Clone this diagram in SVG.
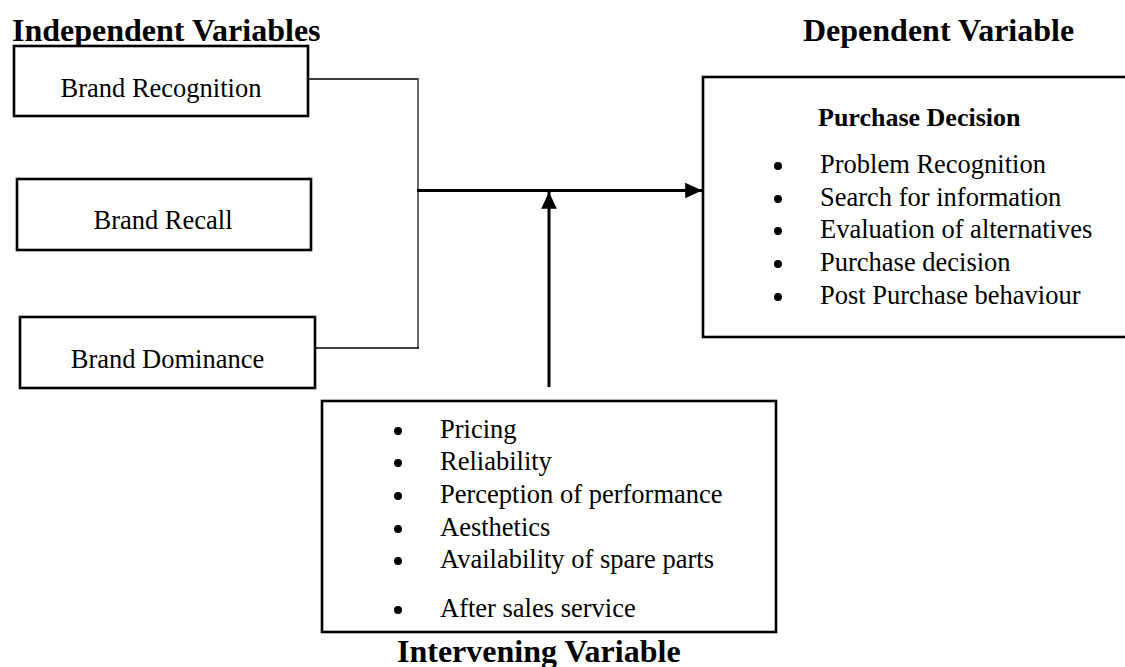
<svg xmlns="http://www.w3.org/2000/svg" width="1125" height="667" viewBox="0 0 1125 667">
<defs>
<style>
.box{fill:#fff;stroke:#000;stroke-width:2.6}
.t{font-family:"Liberation Serif","Times New Roman",serif;font-size:26.5px;fill:#000}
.h{font-family:"Liberation Serif","Times New Roman",serif;font-size:32px;font-weight:bold;fill:#000}
.hb{font-family:"Liberation Serif","Times New Roman",serif;font-size:26px;font-weight:bold;fill:#000}
.thin{stroke:#000;stroke-width:1.5;fill:none}
.vert{stroke:#444;stroke-width:1.6;fill:none}
.main{stroke:#000;stroke-width:3;fill:none}
.dot{fill:#000}
</style>
<marker id="arr" markerWidth="6" markerHeight="6" refX="5.6" refY="3" orient="auto" markerUnits="strokeWidth">
<path d="M0,0.4 L5.6,3 L0,5.6 Z" fill="#000"/>
</marker>
</defs>
<rect width="1125" height="667" fill="#fff"/>
<text class="h" x="12" y="41">Independent Variables</text>
<text class="h" x="803" y="41">Dependent Variable</text>
<text class="h" x="397" y="662">Intervening Variable</text>

<g id="connectors">
<line class="thin" x1="308" y1="79" x2="418" y2="79"/>
<line class="vert" x1="418" y1="78" x2="418" y2="348"/>
<line class="thin" x1="315" y1="348" x2="419" y2="348"/>
<line class="main" x1="417" y1="190.5" x2="702" y2="190.5" marker-end="url(#arr)"/>
<line class="main" x1="549" y1="387" x2="549" y2="192" marker-end="url(#arr)"/>
</g>

<g id="brand-recognition">
<rect class="box" x="14" y="46" width="294" height="70"/>
<text class="t" x="161" y="97" text-anchor="middle">Brand Recognition</text>
</g>
<g id="brand-recall">
<rect class="box" x="17" y="179" width="294" height="71"/>
<text class="t" x="163" y="229" text-anchor="middle">Brand Recall</text>
</g>
<g id="brand-dominance">
<rect class="box" x="20" y="317" width="295" height="71"/>
<text class="t" x="167.5" y="368" text-anchor="middle">Brand Dominance</text>
</g>

<g id="purchase-decision">
<rect class="box" x="703" y="77" width="425" height="260"/>
<text class="hb" x="818" y="126">Purchase Decision</text>
<circle class="dot" cx="778" cy="166" r="4"/>
<text class="t" x="820" y="173">Problem Recognition</text>
<circle class="dot" cx="778" cy="199" r="4"/>
<text class="t" x="820" y="206">Search for information</text>
<circle class="dot" cx="778" cy="231" r="4"/>
<text class="t" x="820" y="238">Evaluation of alternatives</text>
<circle class="dot" cx="778" cy="264" r="4"/>
<text class="t" x="820" y="271">Purchase decision</text>
<circle class="dot" cx="778" cy="297" r="4"/>
<text class="t" x="820" y="304">Post Purchase behaviour</text>
</g>

<g id="intervening">
<rect class="box" x="322" y="401" width="454" height="231"/>
<circle class="dot" cx="398" cy="431" r="4"/>
<text class="t" x="440" y="438">Pricing</text>
<circle class="dot" cx="398" cy="463" r="4"/>
<text class="t" x="440" y="470">Reliability</text>
<circle class="dot" cx="398" cy="496" r="4"/>
<text class="t" x="440" y="503">Perception of performance</text>
<circle class="dot" cx="398" cy="529" r="4"/>
<text class="t" x="440" y="536">Aesthetics</text>
<circle class="dot" cx="398" cy="561" r="4"/>
<text class="t" x="440" y="568">Availability of spare parts</text>
<circle class="dot" cx="398" cy="610" r="4"/>
<text class="t" x="440" y="617">After sales service</text>
</g>
</svg>
